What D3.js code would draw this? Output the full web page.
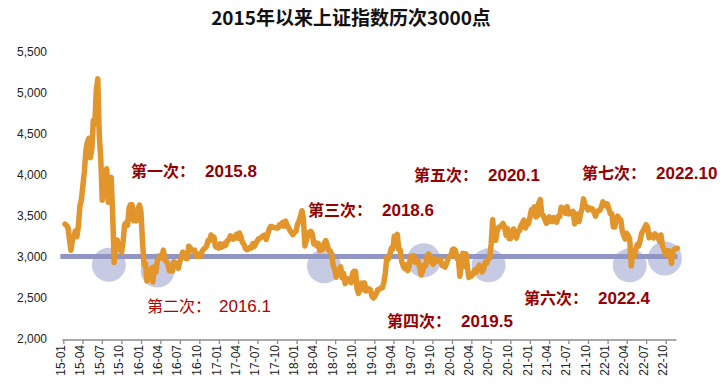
<!DOCTYPE html>
<html>
<head>
<meta charset="utf-8">
<script src="https://cdn.jsdelivr.net/npm/d3@7/dist/d3.min.js"></script>
<style>
  body { margin: 0; background: #fff; }
  svg { display: block; }
  text { font-family: "Liberation Sans", Arial, "Noto Sans CJK SC", sans-serif; }
</style>
</head>
<body>
<svg id="chart" width="722" height="391"></svg>
<script>
const WIDTH = 722;
const HEIGHT = 391;

// weekly closes (Fridays), first Friday of each year in yearStarts
const yearStarts = ["2015-01-09", "2016-01-01", "2017-01-06", "2018-01-05",
                    "2019-01-04", "2020-01-03", "2021-01-01", "2022-01-07"];

const close2015 = [3395, 3376, 3351, 3210, 3076, 3204, 3246, 3310, 3241, 3372, 3617, 3691,
                   3863, 4034, 4287, 4394, 4441, 4205, 4308, 4658, 4611, 5023, 5166, 4478, 4192,
                   3687, 3877, 3957, 4070, 3663, 3744, 3965, 3507, 2927, 3160, 3200, 3097, 3092,
                   3053, 3183, 3391, 3412, 3383, 3590, 3632, 3630, 3436, 3525, 3434, 3578, 3628];
const close2016 = [3539, 3186, 2900, 2916, 2700, 2763, 2763, 2860, 2690, 2874, 2810, 2955, 2979,
                   3009, 2985, 3078, 2959, 2938, 2913, 2827, 2825, 2821, 2938, 2927, 2885, 2854,
                   2932, 2988, 3054, 3012, 2979, 2976, 3125, 3108, 3070, 3067, 3078, 3002, 3033, 3004,
                   3004, 3063, 3090, 3104, 3125, 3196, 3192, 3262, 3243, 3232, 3122, 3110, 3103];
const close2017 = [3154, 3113, 3123, 3159, 3140, 3196, 3202, 3253, 3218, 3212, 3237, 3269, 3223,
                   3287, 3246, 3173, 3154, 3103, 3083, 3090, 3110, 3105, 3158, 3123, 3157, 3192,
                   3217, 3222, 3238, 3253, 3262, 3208, 3268, 3331, 3365, 3365, 3353, 3352, 3348,
                   3348, 3390, 3378, 3416, 3371, 3432, 3382, 3353, 3317, 3289, 3266, 3297, 3307];
const close2018 = [3391, 3428, 3487, 3558, 3462, 3129, 3199, 3289, 3254, 3307, 3269, 3152, 3168,
                   3131, 3159, 3071, 3082, 3091, 3163, 3193, 3141, 3075, 3067, 3021, 2889, 2847,
                   2747, 2831, 2829, 2873, 2740, 2795, 2669, 2729, 2725, 2702, 2681, 2797, 2821,
                   2821, 2606, 2550, 2598, 2676, 2599, 2679, 2579, 2588, 2606, 2594, 2516, 2494];
const close2019 = [2514, 2553, 2596, 2601, 2618, 2618, 2682, 2804, 2994, 2969, 3021, 3104, 3090,
                   3247, 3189, 3270, 3086, 3078, 2939, 2882, 2852, 2898, 2827, 2882, 3001, 2979,
                   3011, 2930, 2924, 2944, 2867, 2774, 2823, 2897, 2886, 2999, 3031, 3006, 2932,
                   2905, 2973, 2938, 2954, 2958, 2964, 2891, 2885, 2871, 2912, 2968, 3005, 3005];
const close2020 = [3083, 3092, 3075, 2976, 2976, 2760, 2917, 3039, 2880, 3034, 2887, 2745, 2772,
                   2764, 2796, 2838, 2808, 2860, 2895, 2868, 2813, 2852, 2930, 2920, 2968, 2980,
                   3152, 3450, 3214, 3197, 3310, 3354, 3360, 3380, 3404, 3355, 3260, 3338, 3219,
                   3218, 3272, 3336, 3278, 3225, 3312, 3310, 3377, 3408, 3445, 3347, 3395, 3397];
const close2021 = [3473, 3570, 3566, 3606, 3483, 3496, 3655, 3696, 3509, 3502, 3453, 3405, 3418,
                   3484, 3450, 3426, 3474, 3447, 3418, 3490, 3487, 3600, 3592, 3590, 3525, 3607,
                   3519, 3525, 3539, 3550, 3397, 3458, 3517, 3427, 3522, 3581, 3703, 3613, 3613,
                   3568, 3592, 3572, 3582, 3547, 3491, 3539, 3560, 3564, 3607, 3666, 3632, 3618, 3640];
const close2022 = [3580, 3521, 3522, 3361, 3361, 3462, 3491, 3451, 3447, 3309, 3251, 3212,
                   3282, 3251, 3211, 2886, 3047, 3001, 3084, 3146, 3130, 3195, 3285, 3316, 3349,
                   3388, 3356, 3228, 3269, 3253, 3227, 3276, 3258, 3236, 3186, 3262, 3126, 3088, 3024,
                   3071, 3071, 3038, 2915, 3070, 3087, 3097, 3101];

const yTicks = [2000, 2500, 3000, 3500, 4000, 4500, 5000, 5500];
const baseLevel = 3000;

// the seven touches of 3000, circled on the chart
const touchDates = ["2015-08-03", "2016-03-19", "2018-05-10", "2019-08-21",
                    "2020-06-21", "2022-04-15", "2022-09-27"];
const touchValues = [2900, 2830, 2880, 2955, 2892, 2892, 2975];
const touchOrder = ["第一次", "第二次", "第三次", "第四次", "第五次", "第六次", "第七次"];
const touchMonths = ["2015.8", "2016.1", "2018.6", "2019.5", "2020.1", "2022.4", "2022.10"];

const title = "2015年以来上证指数历次3000点";

// label placement in pixels (layout, not data)
const labelPos = [[131, 177], [147, 312], [308, 216], [387, 327], [414, 181], [524, 304], [582, 179]];

const parse = d3.timeParse("%Y-%m-%d");
const series = [close2015, close2016, close2017, close2018, close2019, close2020, close2021, close2022];
let data = [];
series.forEach((vals, k) => {
  let start = parse(yearStarts[k]);
  vals.forEach((v, i) => data.push({ date: d3.timeDay.offset(start, i * 7), value: v }));
});

let svg = d3.select("#chart");

let x = d3.scaleTime()
          .domain([new Date(2015, 0, 1), new Date(2022, 9, 1)])
          .range([63.3, 665.7]);
let y = d3.scaleLinear()
          .domain([2000, 5500])
          .range([338.5, 51.5]);

// title
svg.append("text")
   .attr("x", 351)
   .attr("y", 25)
   .attr("text-anchor", "middle")
   .style("font-family", "'Noto Sans CJK SC', sans-serif")
   .style("font-size", "19px")
   .style("font-weight", "bold")
   .attr("fill", "#111")
   .text(title);

// y axis labels
let yAxis = svg.append("g")
               .attr("transform", "translate(47,0)")
               .call(d3.axisLeft(y).tickValues(yTicks).tickSize(0).tickPadding(0).tickFormat(d3.format(",")));
yAxis.select(".domain").remove();
yAxis.selectAll("text").style("font-size", "12px").attr("fill", "#222");

// x axis
let tickDates = d3.timeMonth.every(3).range(new Date(2015, 0, 1), new Date(2022, 10, 1));
let xAxis = svg.append("g")
               .attr("transform", "translate(0,340)")
               .call(d3.axisBottom(x).tickValues(tickDates).tickSize(4).tickFormat(d3.timeFormat("%y-%m")));
xAxis.select(".domain").remove();
xAxis.selectAll("line").attr("stroke", "#8c8c8c").attr("stroke-width", 1.3);
xAxis.selectAll("text")
     .style("font-size", "12px")
     .attr("fill", "#222")
     .attr("text-anchor", "end")
     .attr("transform", "rotate(-90)")
     .attr("x", -5)
     .attr("y", 0)
     .attr("dy", "0.1em");
xAxis.append("line")
     .attr("x1", x.range()[0] - 1)
     .attr("x2", x(data[data.length - 1].date) - 1)
     .attr("y1", 0)
     .attr("y2", 0)
     .attr("stroke", "#8c8c8c")
     .attr("stroke-width", 1.6);

// circles for each touch
svg.append("g")
   .selectAll("circle")
   .data(touchDates)
   .enter().append("circle")
   .attr("cx", d => x(parse(d)))
   .attr("cy", (d, i) => y(touchValues[i]))
   .attr("r", 17)
   .attr("fill", "#c7cae3");

// 3000 line
svg.append("line")
   .attr("x1", x.range()[0] - 3)
   .attr("x2", x(data[data.length - 1].date))
   .attr("y1", y(baseLevel))
   .attr("y2", y(baseLevel))
   .attr("stroke", "#9195c4")
   .attr("stroke-width", 5);

// index line
let line = d3.line()
             .x(d => x(d.date))
             .y(d => y(d.value));
svg.append("path")
   .datum(data)
   .attr("d", line)
   .attr("fill", "none")
   .attr("stroke", "#e1952b")
   .attr("stroke-width", 5.5)
   .attr("stroke-linejoin", "round")
   .attr("stroke-linecap", "round");

// annotations
let labels = svg.append("g")
                .selectAll("text")
                .data(touchOrder)
                .enter().append("text")
                .attr("x", (d, i) => labelPos[i][0])
                .attr("y", (d, i) => labelPos[i][1])
                .style("font-weight", (d, i) => i === 1 ? "normal" : "bold")
                .attr("fill", (d, i) => i === 1 ? "#b00000" : "#950000");
labels.append("tspan")
      .style("font-size", "16px")
      .text(d => d + "：");
labels.append("tspan")
      .attr("x", (d, i) => labelPos[i][0] + (i === 1 ? 72 : 74))
      .style("font-size", "17px")
      .text((d, i) => touchMonths[i]);
</script>
</body>
</html>
